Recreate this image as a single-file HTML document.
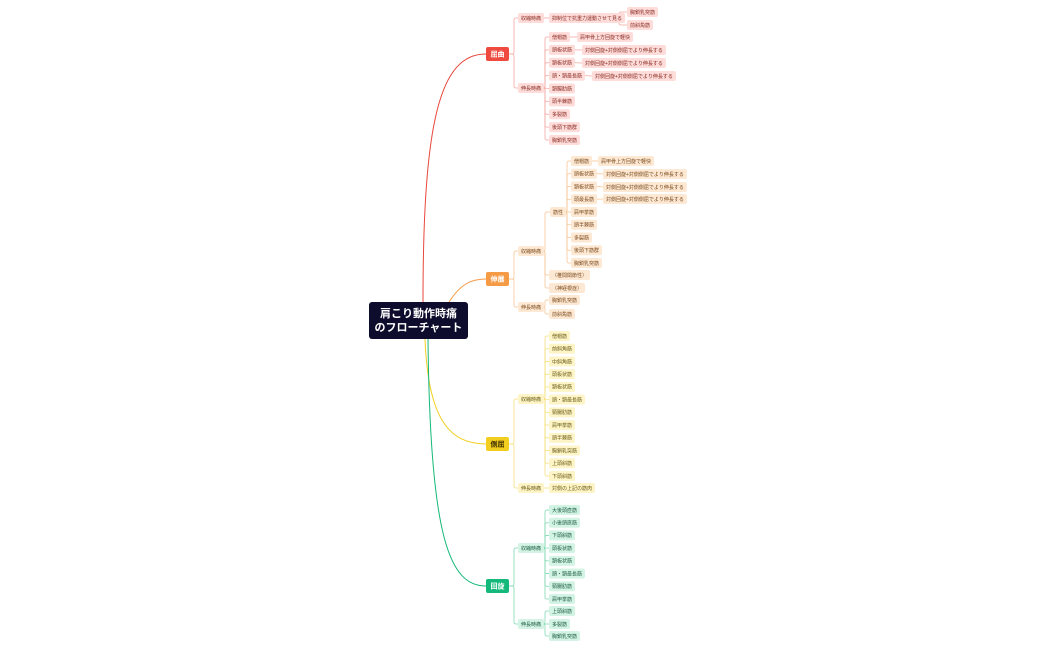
<!DOCTYPE html>
<html><head><meta charset="utf-8"><style>
html,body{margin:0;padding:0;background:#fff;width:1050px;height:650px;overflow:hidden}
svg text{font-family:"Liberation Sans","Noto Sans CJK JP",sans-serif}
</style></head><body>
<svg id="s" width="1050" height="650" viewBox="0 0 1050 650" xmlns="http://www.w3.org/2000/svg">
<path d="M423 302 C423 120 440 54 486 54" stroke="#e8473b" stroke-width="1" fill="none"/>
<path d="M449 302 C460 285 470 279 486 279" stroke="#f59a45" stroke-width="1" fill="none"/>
<path d="M425 339 C428 420 450 444 486 444" stroke="#f2cf1e" stroke-width="1" fill="none"/>
<path d="M428 339 C430 540 450 586 486 586" stroke="#14b87a" stroke-width="1" fill="none"/>
<rect x="369" y="302" width="99" height="37" rx="3" fill="#0d0c2c"/>
<text x="418.5" y="317" font-size="11" font-weight="bold" fill="#fff" text-anchor="middle">肩こり動作時痛</text>
<text x="418.5" y="331" font-size="11" font-weight="bold" fill="#fff" text-anchor="middle">のフローチャート</text>
</svg>
<script>
var S=document.getElementById('s'),NS='http://www.w3.org/2000/svg';
function el(t,a,txt){var e=document.createElementNS(NS,t);for(var k in a)e.setAttribute(k,a[k]);if(txt)e.textContent=txt;S.appendChild(e);return e;}
var C={
r:{main:'#ef4a3f',line:'#f5a9a2',fill:'#fddcd9',tx:'#8a2a22'},
o:{main:'#f59a45',line:'#f8c593',fill:'#fde8d4',tx:'#7a4a1a'},
y:{main:'#f2cf1e',line:'#f6e07a',fill:'#fdf4c8',tx:'#6a5a10'},
g:{main:'#14b87a',line:'#7fd9b4',fill:'#d3f3e5',tx:'#1a5a40'}};
function w(t){var n=0;for(var i=0;i<t.length;i++){n+=t.charCodeAt(i)>255?5:2.9;}return n+6;}
var boxes=[];
function node(t,x,y,c){var W=w(t);boxes.push([t,x,y,W,c]);return {x:x,y:y,r:x+W};}
function big(t,x,y,c){el('rect',{x:x,y:y-7,width:23,height:14,rx:2,fill:C[c].main});el('text',{x:x+11.5,y:y+2.5,'font-size':7,'font-weight':'bold',fill:c=='y'?'#3a2a00':'#fff','text-anchor':'middle'},t);return {x:x,y:y,r:x+23};}
function link(p,ch,c,sx){var col=C[c].line;var cl=ch[0].x;if(sx===undefined)sx=(p.r+cl)/2;
 ch.forEach(function(k){var d;if(Math.abs(k.y-p.y)<1)d='M'+p.r+' '+p.y+' L'+k.x+' '+k.y;
 else{var s=k.y<p.y?-1:1;d='M'+p.r+' '+p.y+' L'+(sx-2)+' '+p.y+' Q'+sx+' '+p.y+' '+sx+' '+(p.y+2*s)+' L'+sx+' '+(k.y-2*s)+' Q'+sx+' '+k.y+' '+(sx+2)+' '+k.y+' L'+k.x+' '+k.y;}
 el('path',{d:d,stroke:col,'stroke-width':0.8,fill:'none'});});}
function list(arr,x,ys,c){return arr.map(function(t,i){return node(t,x,ys[i],c);});}
function seq(a,b,n){var r=[];for(var i=0;i<n;i++)r.push(a+(b-a)*i/(n-1));return r;}
var TX='対側回旋+対側側屈でより伸長する';
// red
var R=big('屈曲',486,54,'r');
var r1=node('収縮時痛',518,18,'r'),r2=node('伸長時痛',518,88,'r');link(R,[r1,r2],'r',514);
var r11=node('抑制位で抗重力運動させて見る',549,18,'r');link(r1,[r11],'r');
var r111=list(['胸鎖乳突筋','前斜角筋'],627,[12,25],'r');link(r11,r111,'r',619);
var rl=list(['僧帽筋','頭板状筋','頸板状筋','頭・頸最長筋','頸腸肋筋','頭半棘筋','多裂筋','後頭下筋群','胸鎖乳突筋'],549,seq(37,140,9),'r');link(r2,rl,'r',545);
link(rl[0],[node('肩甲骨上方回旋で軽快',577,37,'r')],'r');
link(rl[1],[node(TX,582,50,'r')],'r');
link(rl[2],[node(TX,582,63,'r')],'r');
link(rl[3],[node(TX,592,76,'r')],'r');
// orange
var O=big('伸展',486,279,'o');
var o1=node('収縮時痛',518,251,'o'),o2=node('伸長時痛',518,307,'o');link(O,[o1,o2],'o',514);
var o11=node('筋性',550,212,'o'),o12=node('（椎間関節性）',549,275,'o'),o13=node('（神経根症）',549,288,'o');link(o1,[o11,o12,o13],'o',545);
var ol=list(['僧帽筋','頭板状筋','頸板状筋','頭最長筋','肩甲挙筋','頭半棘筋','多裂筋','後頭下筋群','胸鎖乳突筋'],571,seq(161,263,9),'o');link(o11,ol,'o',567);
link(ol[0],[node('肩甲骨上方回旋で軽快',598,161,'o')],'o');
link(ol[1],[node(TX,603,174,'o')],'o');
link(ol[2],[node(TX,603,187,'o')],'o');
link(ol[3],[node(TX,603,199,'o')],'o');
link(o2,list(['胸鎖乳突筋','前斜角筋'],549,[300,314],'o'),'o',545);
// yellow
var Y=big('側屈',486,444,'y');
var y1=node('収縮時痛',518,399,'y'),y2=node('伸長時痛',518,488,'y');link(Y,[y1,y2],'y',514);
link(y1,list(['僧帽筋','前斜角筋','中斜角筋','頭板状筋','頸板状筋','頭・頸最長筋','頸腸肋筋','肩甲挙筋','頭半棘筋','胸鎖乳突筋','上頭斜筋','下頭斜筋'],549,seq(336,476,12),'y'),'y',545);
link(y2,[node('対側の上記の筋肉',549,488,'y')],'y');
// green
var G=big('回旋',486,586,'g');
var g1=node('収縮時痛',518,548,'g'),g2=node('伸長時痛',518,624,'g');link(G,[g1,g2],'g',514);
link(g1,list(['大後頭直筋','小後頭直筋','下頭斜筋','頭板状筋','頸板状筋','頭・頸最長筋','頸腸肋筋','肩甲挙筋'],549,seq(510,599,8),'g'),'g',545);
link(g2,list(['上頭斜筋','多裂筋','胸鎖乳突筋'],549,[611,624,636],'g'),'g',545);
boxes.forEach(function(b){var c=C[b[4]];el('rect',{x:b[1],y:b[2]-5,width:b[3],height:10,rx:2,fill:c.fill});el('text',{x:b[1]+3,y:b[2]+1.8,'font-size':5,fill:c.tx},b[0]);});
</script>
</body></html>
